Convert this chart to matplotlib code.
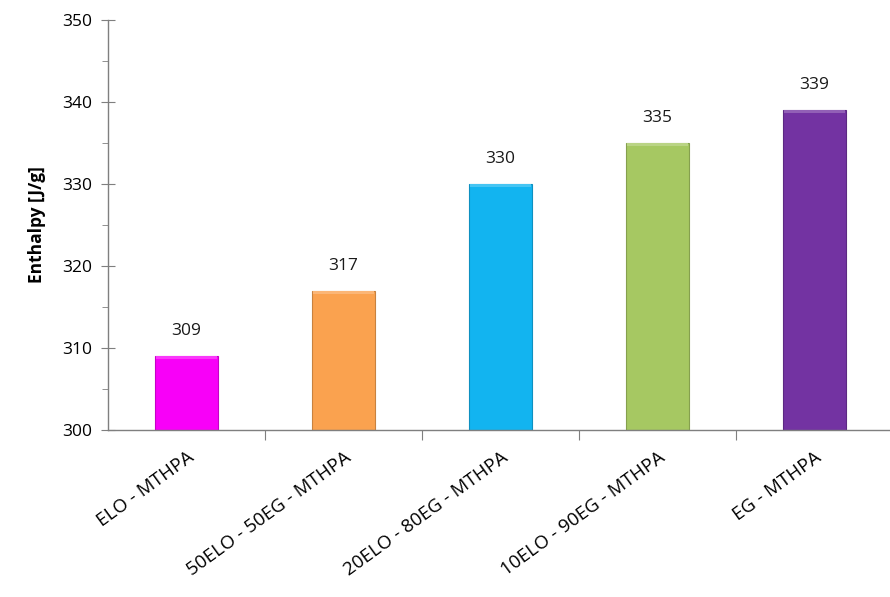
import matplotlib
matplotlib.use("Agg")
import matplotlib.pyplot as plt
from matplotlib.ticker import MultipleLocator
from matplotlib.colors import to_rgb

plt.rcParams["font.family"] = ["Open Sans", "DejaVu Sans"]

categories = ["ELO - MTHPA", "50ELO - 50EG - MTHPA", "20ELO - 80EG - MTHPA",
              "10ELO - 90EG - MTHPA", "EG - MTHPA"]
enthalpy = [309, 317, 330, 335, 339]
bar_colors = ["#F800F8", "#FAA24F", "#12B4F0", "#A6C862", "#7333A2"]


def shade(c, f):
    r, g, b = to_rgb(c)
    if f > 0:
        return (r + (1 - r) * f, g + (1 - g) * f, b + (1 - b) * f)
    return (r * (1 + f), g * (1 + f), b * (1 + f))


fig = plt.figure(figsize=(8.9, 5.97), dpi=100)
ax = fig.add_axes([0.1213, 0.2797, 0.882, 0.6868])

x = list(range(len(categories)))
width = 0.4
ax.bar(x, [v - 300 for v in enthalpy], bottom=300, width=width, color=bar_colors,
       edgecolor=[shade(c, -0.2) for c in bar_colors], linewidth=0.8, zorder=2)
# light bevel on the top of each bar
ax.bar(x, 0.4, bottom=[v - 0.4 for v in enthalpy], width=width * 0.97,
       color=[shade(c, 0.22) for c in bar_colors], linewidth=0, zorder=3)

for xi, v in zip(x, enthalpy):
    ax.annotate(str(v), (xi, v), xytext=(0, 17), textcoords="offset pixels",
                ha="center", va="bottom", fontsize=12.5, color="#1a1a1a")

ax.set_xlim(-0.5, 4.5)
ax.set_ylim(300, 350)
ax.yaxis.set_major_locator(MultipleLocator(10))
ax.yaxis.set_minor_locator(MultipleLocator(5))

ax.set_xticks([i + 0.5 for i in x[:-1]], minor=False)
ax.set_xticklabels([])
ax.set_xticks(x, minor=True)
ax.set_xticklabels(categories, minor=True, rotation=36, ha="right", va="top",
                   rotation_mode="anchor", fontsize=13.5)
ax.tick_params(axis="x", which="minor", length=0, pad=13)
ax.tick_params(axis="x", which="major", length=7, color="#7f7f7f", direction="out")
ax.tick_params(axis="y", which="major", length=10, direction="inout",
               color="#7f7f7f", labelsize=12.5, pad=6)
ax.tick_params(axis="y", which="minor", length=4, direction="out", color="#7f7f7f")

for s in ["top", "right"]:
    ax.spines[s].set_visible(False)
for s in ["left", "bottom"]:
    ax.spines[s].set_color("#7f7f7f")
    ax.spines[s].set_linewidth(1.0)

ax.set_ylabel("Enthalpy [J/g]", fontsize=12.5, fontweight="bold", labelpad=12)

fig.savefig("out.png", dpi=100)
